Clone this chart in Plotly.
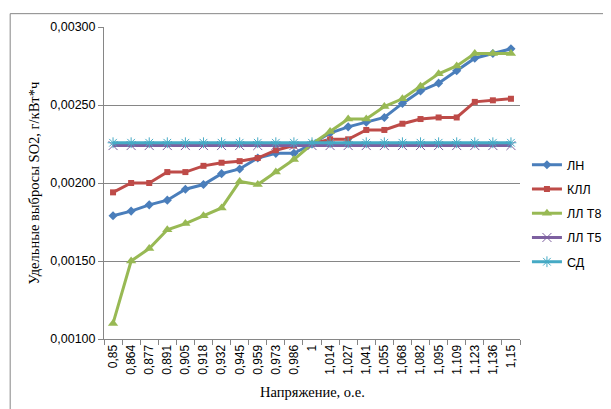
import plotly.graph_objects as go

categories = ["0,85", "0,864", "0,877", "0,891", "0,905", "0,918", "0,932", "0,945",
              "0,959", "0,973", "0,986", "1", "1,014", "1,027", "1,041", "1,055",
              "1,068", "1,082", "1,095", "1,109", "1,123", "1,136", "1,15"]

ln = [0.00179, 0.00182, 0.00186, 0.00189, 0.00196, 0.00199, 0.00206, 0.00209,
      0.00216, 0.00219, 0.00219, 0.00225, 0.00232, 0.00236, 0.00239, 0.00242,
      0.00251, 0.00259, 0.00264, 0.00272, 0.00280, 0.00283, 0.00286]
kll = [0.00194, 0.00200, 0.00200, 0.00207, 0.00207, 0.00211, 0.00213, 0.00214,
       0.00216, 0.00221, 0.00224, 0.00225, 0.00228, 0.00228, 0.00234, 0.00234,
       0.00238, 0.00241, 0.00242, 0.00242, 0.00252, 0.00253, 0.00254]
ll_t8 = [0.00110, 0.00150, 0.00158, 0.00170, 0.00174, 0.00179, 0.00184, 0.00201,
         0.00199, 0.00207, 0.00215, 0.00225, 0.00233, 0.00241, 0.00241, 0.00249,
         0.00254, 0.00262, 0.00270, 0.00275, 0.00283, 0.00283, 0.00283]
ll_t5 = [0.00224] * 23
sd = [0.002258] * 23

y_ticks = [0.0010, 0.0015, 0.0020, 0.0025, 0.0030]
y_ticktext = ["0,00100", "0,00150", "0,00200", "0,00250", "0,00300"]

series = [
    ("ЛН", ln, "#4A7EBB", dict(symbol="diamond", size=7)),
    ("КЛЛ", kll, "#BE4B48", dict(symbol="square", size=6)),
    ("ЛЛ Т8", ll_t8, "#98B954", dict(symbol="triangle-up", size=9)),
    ("ЛЛ Т5", ll_t5, "#7D60A0", dict(symbol="x-thin-open", size=9, line=dict(width=1, color="#7D60A0"))),
    ("СД", sd, "#46AAC5", dict(symbol="asterisk-open", size=9, line=dict(width=1, color="#46AAC5"))),
]

fig = go.Figure()
for i, (name, vals, color, mk) in enumerate(series):
    mk = dict(mk)
    mk.setdefault("color", color)
    fig.add_trace(go.Scatter(
        x=categories, y=vals, name=name, mode="lines+markers",
        line=dict(color=color, width=3), marker=mk, legendgroup=f"g{i}",
    ))

# draw purple under cyan (order: purple then cyan already)

L, R, T, B = 96, 96, 15, 78
W, H = 611, 409
pw = W - L - R
ph = H - T - B

fig.update_layout(
    width=W, height=H,
    margin=dict(l=L, r=R, t=T, b=B),
    paper_bgcolor="white", plot_bgcolor="white",
    font=dict(family="Liberation Sans", size=12, color="#000000"),
    showlegend=True,
    legend=dict(
        x=(522 - L) / pw, y=(H - B - 204) / ph, xanchor="left", yanchor="middle",
        font=dict(family="Liberation Sans", size=12.5),
        tracegroupgap=5, bgcolor="rgba(0,0,0,0)",
    ),
    xaxis=dict(
        type="category", range=[-0.5, 22.5],
        showgrid=False, showline=True, linecolor="#868686", linewidth=1,
        ticks="outside", tickson="boundaries", ticklen=5, tickcolor="#868686",
        tickangle=-90, tickfont=dict(family="Liberation Sans", size=12),
        zeroline=False,
    ),
    yaxis=dict(
        range=[0.0010, 0.0030], tickvals=y_ticks, ticktext=y_ticktext,
        showgrid=True, gridcolor="#868686", gridwidth=1,
        showline=True, linecolor="#868686", linewidth=1,
        ticks="outside", ticklen=5, tickcolor="#868686",
        tickfont=dict(family="Liberation Sans", size=12.5),
        zeroline=False,
    ),
    annotations=[
        dict(text="Удельные выбросы SO2, г/кВт*ч", xref="paper", yref="paper",
             x=(25 - L) / pw, y=0.5, textangle=-90, showarrow=False,
             xanchor="center", yanchor="middle",
             font=dict(family="Liberation Serif", size=14.5)),
        dict(text="Напряжение, о.е.", xref="paper", yref="paper",
             x=0.5, y=(H - B - 385) / ph, showarrow=False,
             xanchor="center", yanchor="middle",
             font=dict(family="Liberation Serif", size=14.5)),
    ],
    shapes=[
        dict(type="rect", xref="paper", yref="paper",
             x0=(1.5 - L) / pw, x1=(608.5 - L) / pw,
             y0=(H - B - 407.5) / ph, y1=(H - B - 1.5) / ph,
             line=dict(color="#868686", width=1), fillcolor="rgba(0,0,0,0)", layer="below"),
    ],
)

fig.write_html("out.html")
